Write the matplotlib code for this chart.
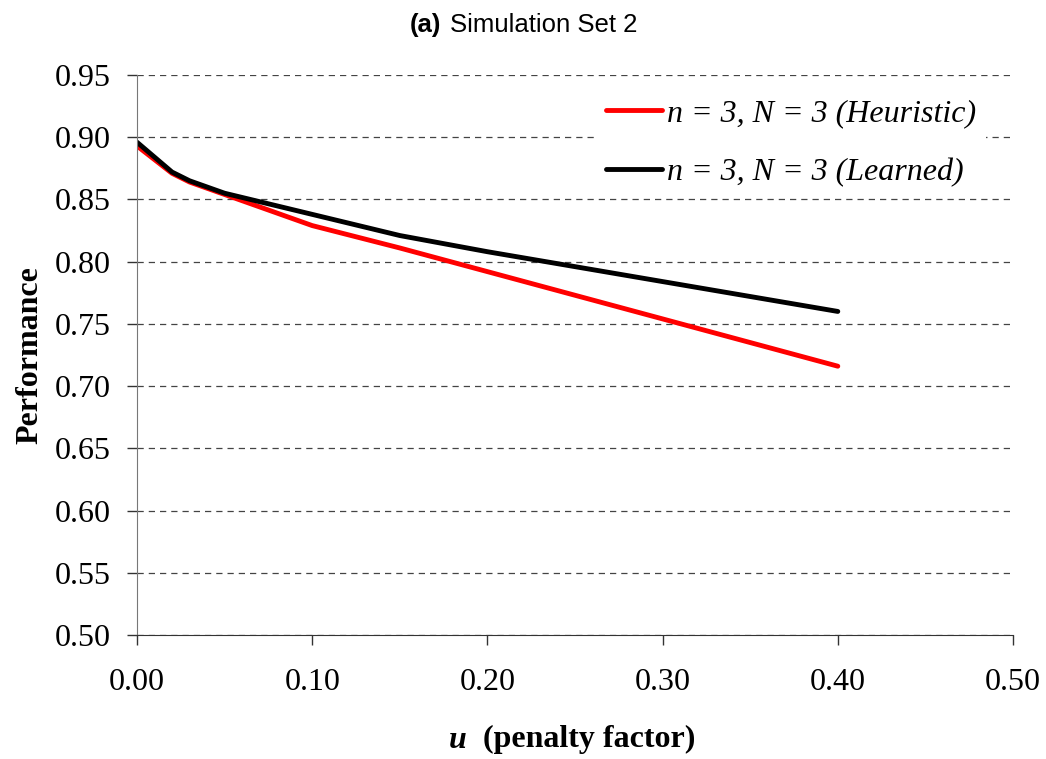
import matplotlib.pyplot as plt

# datos
u = [0.0, 0.02, 0.03, 0.05, 0.10, 0.15, 0.20, 0.25, 0.30, 0.35, 0.40]
heuristic = [0.893, 0.871, 0.864, 0.854, 0.829, 0.811, 0.792, 0.773, 0.754, 0.735, 0.716]
learned = [0.896, 0.872, 0.865, 0.855, 0.838, 0.821, 0.808, 0.796, 0.784, 0.772, 0.760]

labels = ["n = 3, N = 3 (Heuristic)", "n = 3, N = 3 (Learned)"]
yticks = [0.50, 0.55, 0.60, 0.65, 0.70, 0.75, 0.80, 0.85, 0.90, 0.95]
xticks = [0.0, 0.1, 0.2, 0.3, 0.4, 0.5]

serif = "Liberation Serif"
W, H = 1046, 759

fig = plt.figure(figsize=(10.46, 7.59), dpi=100)
ax = fig.add_axes([137 / W, 1 - 635 / H, 876 / W, 560 / H])

ax.plot(u, heuristic, color="#ff0000", linewidth=3.5, label=labels[0], solid_capstyle="round")
ax.plot(u, learned, color="black", linewidth=3.5, label=labels[1], solid_capstyle="round")

ax.set_xlim(0, 0.5)
ax.set_ylim(0.5, 0.95)
ax.set_xticks(xticks)
ax.set_yticks(yticks)
ax.set_xticklabels([f"{v:.2f}" for v in xticks], fontfamily=serif, fontsize=23)
ax.set_yticklabels([f"{v:.2f}" for v in yticks], fontfamily=serif, fontsize=23)
ax.tick_params(axis="both", direction="out", length=7, width=1, color="#333333")
ax.tick_params(axis="x", pad=17)
ax.tick_params(axis="y", pad=12)

ax.grid(axis="y", linestyle=(0, (5, 4)), color="#444444", linewidth=0.9)
ax.set_axisbelow(True)
for s in ["top", "right"]:
    ax.spines[s].set_visible(False)
ax.spines["left"].set_color("#777777")
ax.spines["bottom"].set_color("#333333")

# etiquetas de los ejes
fig.text(30 / W, 1 - 355 / H, "Performance", fontfamily=serif, fontsize=23,
         fontweight="bold", rotation=90, ha="center", va="center")
t1 = fig.text(449 / W, 1 - 740 / H, "u", fontfamily=serif, fontsize=23,
              fontweight="bold", fontstyle="italic", ha="left", va="center")
ax.annotate("  (penalty factor)", xy=(1, 0), xycoords=t1, ha="left", va="bottom",
            fontfamily=serif, fontsize=23, fontweight="bold", annotation_clip=False)

# título
fig.text(410 / W, 1 - 25 / H, "(a)", fontfamily="Liberation Sans", fontsize=18.5,
         fontweight="bold", ha="left", va="center")
fig.text(450 / W, 1 - 25 / H, "Simulation Set 2", fontfamily="Liberation Sans",
         fontsize=18.5, ha="left", va="center")

leg = ax.legend(loc="upper right", bbox_to_anchor=(0.969, 0.975), frameon=True,
                framealpha=1, edgecolor="none", facecolor="white", handlelength=1.75,
                handletextpad=0.15, labelspacing=0.95, borderpad=0.3, borderaxespad=0,
                prop={"family": serif, "style": "italic", "size": 23})

plt.savefig("out.png", dpi=100)
